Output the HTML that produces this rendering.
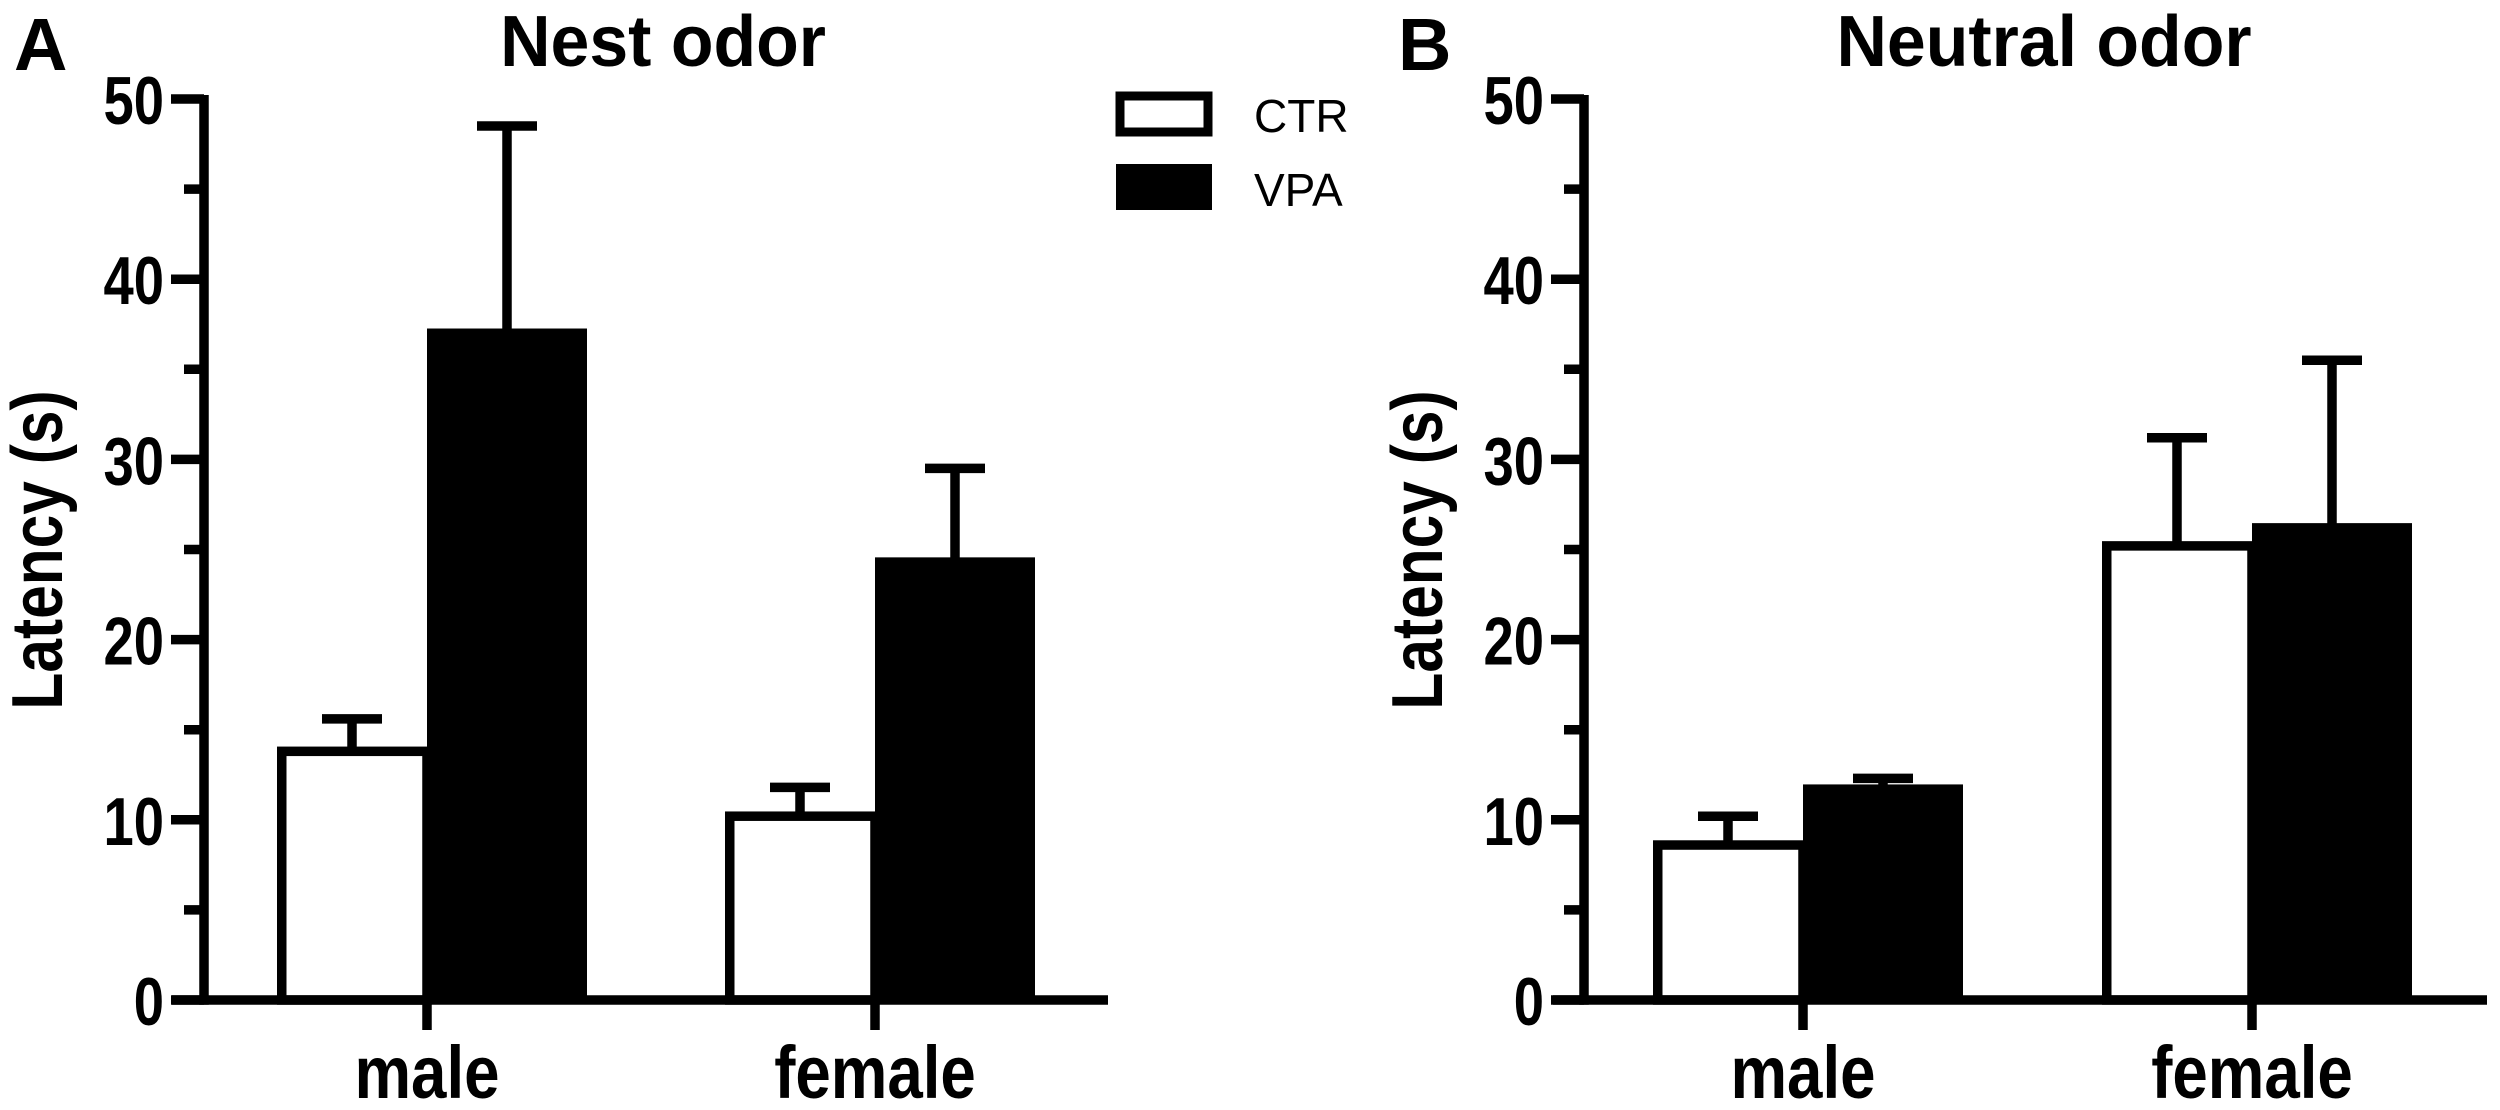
<!DOCTYPE html>
<html><head><meta charset="utf-8"><style>
html,body{margin:0;padding:0;background:#fff;}
svg{display:block;font-family:"Liberation Sans",Arial,sans-serif;}
</style></head><body>
<svg id="chart" width="2500" height="1110" viewBox="0 0 2500 1110" xmlns="http://www.w3.org/2000/svg">
<text x="14" y="70" font-size="74" font-weight="bold">A</text>
<text x="1398" y="70" font-size="74" font-weight="bold">B</text>
<text transform="translate(663,66) scale(0.97,1)" font-size="72" font-weight="bold" text-anchor="middle">Nest odor</text>
<text transform="translate(2044,66) scale(0.97,1)" font-size="72" font-weight="bold" text-anchor="middle">Neutral odor</text>
<g>
<rect x="1120" y="96" width="88" height="36" fill="#fff" stroke="#000" stroke-width="9"/>
<text x="1254" y="132" font-size="46">CTR</text>
<rect x="1116" y="164" width="96" height="46" fill="#000"/>
<text x="1254" y="206" font-size="46">VPA</text>
</g>
<g id="plots"></g>
</svg>
<script>
const categories = ["male", "female"];
const seriesNames = ["CTR", "VPA"];
const nestCTR = [13.8, 10.2];
const nestCTRerr = [1.8, 1.6];
const nestVPA = [37.0, 24.3];
const nestVPAerr = [11.5, 5.2];
const neutralCTR = [8.6, 25.2];
const neutralCTRerr = [1.6, 6.0];
const neutralVPA = [11.7, 26.2];
const neutralVPAerr = [0.6, 9.3];
const yTicks = [0, 10, 20, 30, 40, 50];
const yMinorTicks = [5, 15, 25, 35, 45];

const NS = "http://www.w3.org/2000/svg";
const root = document.getElementById('plots');
function mk(tag, attrs, parent) {
  const e = document.createElementNS(NS, tag);
  for (const k in attrs) e.setAttribute(k, attrs[k]);
  (parent || root).appendChild(e);
  return e;
}
function drawPanel(prefix, axisX, xStart, xEnd, catX, ctr, ctrErr, vpa, vpaErr) {
  const y0 = 1000, yTop = 99, maxV = 50;
  const yScale = v => y0 - (v / maxV) * (y0 - yTop);
  const g = mk('g', {});
  
  
  const bw = 150, lw = 9.5;
  categories.forEach((c, i) => {
    const cx = catX[i];
    const yc = yScale(ctr[i]);
    const ye = yScale(ctr[i] + ctrErr[i]);
    const x1 = cx - bw;
    let el = mk('line', {x1: x1 + bw/2, x2: x1 + bw/2, y1: yc, y2: ye, stroke: '#000', 'stroke-width': lw}, g);
    
    
    el = mk('line', {x1: x1 + bw/2 - 30, x2: x1 + bw/2 + 30, y1: ye, y2: ye, stroke: '#000', 'stroke-width': lw}, g);
    
    
    el = mk('rect', {x: x1 + lw/2, y: yc, width: bw - lw/2, height: y0 - yc, fill: '#fff', stroke: '#000', 'stroke-width': lw}, g);
    
    
    const yv = yScale(vpa[i]);
    const yve = yScale(vpa[i] + vpaErr[i]);
    const x2 = cx;
    el = mk('line', {x1: x2 + bw/2 + 5, x2: x2 + bw/2 + 5, y1: yv, y2: yve, stroke: '#000', 'stroke-width': lw}, g);
    
    
    el = mk('line', {x1: x2 + bw/2 - 25, x2: x2 + bw/2 + 35, y1: yve, y2: yve, stroke: '#000', 'stroke-width': lw}, g);
    
    
    el = mk('rect', {x: x2, y: yv - lw/2, width: bw + 10, height: y0 - yv + lw/2, fill: '#000'}, g);
    
    
    el = mk('line', {x1: cx, x2: cx, y1: y0, y2: 1030, stroke: '#000', 'stroke-width': lw}, g);
    
    
    el = mk('text', {transform: 'translate(' + cx + ',1098) scale(0.86,1)', 'font-size': 74, 'font-weight': 'bold', 'text-anchor': 'middle'}, g);
    el.textContent = c;
    
    
  });
  let el = mk('line', {x1: axisX, x2: axisX, y1: yTop - 4, y2: y0 + lw/2, stroke: '#000', 'stroke-width': lw}, g);
  
  
  el = mk('line', {x1: xStart, x2: xEnd, y1: y0, y2: y0, stroke: '#000', 'stroke-width': lw}, g);
  
  
  yTicks.forEach(t => {
    const y = yScale(t);
    let e = mk('line', {x1: axisX - 33, x2: axisX, y1: y, y2: y, stroke: '#000', 'stroke-width': lw}, g);
    
    
    e = mk('text', {transform: 'translate(' + (axisX - 40) + ',' + (y + 25) + ') scale(0.8,1)', 'font-size': 68, 'font-weight': 'bold', 'text-anchor': 'end'}, g);
    e.textContent = t;
    
    
  });
  yMinorTicks.forEach(t => {
    const y = yScale(t);
    const e = mk('line', {x1: axisX - 20, x2: axisX, y1: y, y2: y, stroke: '#000', 'stroke-width': lw}, g);
    
    
  });
  el = mk('text', {x: 0, y: 0, 'font-size': 72, 'font-weight': 'bold', 'text-anchor': 'middle', transform: 'translate(' + (axisX - 142) + ',550) rotate(-90) scale(0.84,1)'}, g);
  el.textContent = 'Latency (s)';
  
  
}
drawPanel('panel-a', 204, 172, 1108, [427, 875], nestCTR, nestCTRerr, nestVPA, nestVPAerr);
drawPanel('panel-b', 1584, 1553, 2487, [1803, 2252], neutralCTR, neutralCTRerr, neutralVPA, neutralVPAerr);
</script>
</body></html>
